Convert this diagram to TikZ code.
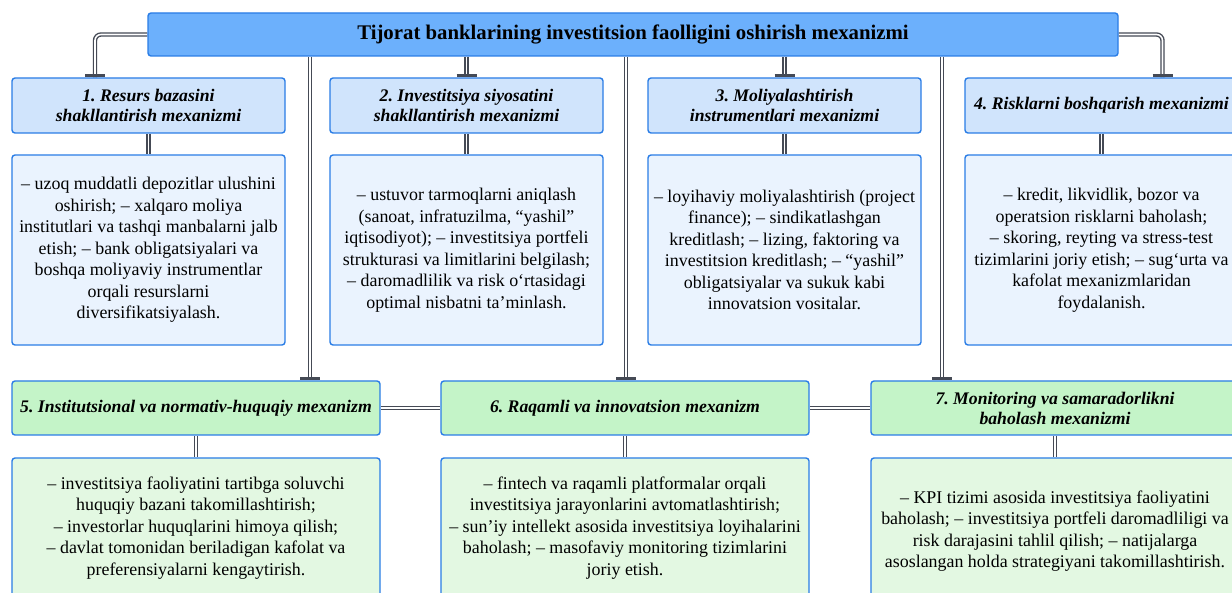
\documentclass[tikz,border=0pt]{standalone}
\usepackage{fontspec}
\setmainfont{Liberation Serif}
\usetikzlibrary{backgrounds,calc}
\definecolor{bordc}{HTML}{2A7DE6}
\definecolor{rootc}{HTML}{6CB0FC}
\definecolor{headb}{HTML}{D0E4FC}
\definecolor{bodyb}{HTML}{EAF3FE}
\definecolor{headg}{HTML}{C4F4C8}
\definecolor{bodyg}{HTML}{E3F8E2}
\definecolor{connc}{HTML}{454A55}
\tikzset{
  box/.style={draw=bordc, line width=1.4pt, rounded corners=3pt, inner sep=0pt, align=center},
  rootbox/.style={box, fill=rootc, minimum width=970pt, minimum height=43pt, font=\fontsize{20.8}{24}\selectfont\bfseries},
  headbox/.style={box, fill=headb, minimum width=273pt, minimum height=55pt, font=\fontsize{17.7}{20}\selectfont\bfseries\itshape},
  bodybox/.style={box, fill=bodyb, minimum width=273pt, minimum height=190pt, font=\fontsize{17.9}{21.5}\selectfont},
  greenhead/.style={box, fill=headg, minimum width=368pt, minimum height=54pt, font=\fontsize{17.7}{20}\selectfont\bfseries\itshape},
  greenbody/.style={box, fill=bodyg, minimum width=368pt, minimum height=140pt, font=\fontsize{17.9}{21.5}\selectfont},
  conn/.style={draw=connc, line width=1.4pt, double=white, double distance=1.6pt, rounded corners=6pt},
  teebar/.style={draw=connc, line width=3pt}
}
\newcommand\tbar[1]{\draw[teebar] ([xshift=-10pt,yshift=1.5pt]#1) -- ([xshift=10pt,yshift=1.5pt]#1);}
\frenchspacing
\begin{document}
\begin{tikzpicture}[x=1pt,y=-1pt]
\useasboundingbox (0,0) rectangle (1232,593);
\clip (0,0) rectangle (1232,593);
% root
\node[rootbox] (root) at (633,34.5) {\raisebox{-1pt}{Tijorat banklarining investitsion faolligini oshirish mexanizmi}};
% row 1 headers
\node[headbox] (h1) at (148.5,105.5) {1. Resurs bazasini\\shakllantirish mexanizmi};
\node[headbox] (h2) at (466.5,105.5) {2. Investitsiya siyosatini\\shakllantirish mexanizmi};
\node[headbox] (h3) at (784.5,105.5) {3. Moliyalashtirish\\instrumentlari mexanizmi};
\node[headbox] (h4) at (1101.5,105.5) {4. Risklarni boshqarish mexanizmi};
% row 1 bodies
\node[bodybox] (c1) at (148.5,250) {– uzoq muddatli depozitlar ulushini\\oshirish; – xalqaro moliya\\institutlari va tashqi manbalarni jalb\\etish; – bank obligatsiyalari va\\boshqa moliyaviy instrumentlar\\orqali resurslarni\\diversifikatsiyalash.};
\node[bodybox] (c2) at (466.5,250) {– ustuvor tarmoqlarni aniqlash\\(sanoat, infratuzilma, “yashil”\\iqtisodiyot); – investitsiya portfeli\\strukturasi va limitlarini belgilash;\\– daromadlilik va risk o‘rtasidagi\\optimal nisbatni ta’minlash.};
\node[bodybox] (c3) at (784.5,250) {– loyihaviy moliyalashtirish (project\\finance); – sindikatlashgan\\kreditlash; – lizing, faktoring va\\investitsion kreditlash; – “yashil”\\obligatsiyalar va sukuk kabi\\innovatsion vositalar.};
\node[bodybox] (c4) at (1101.5,250) {– kredit, likvidlik, bozor va\\operatsion risklarni baholash;\\– skoring, reyting va stress-test\\tizimlarini joriy etish; – sug‘urta va\\kafolat mexanizmlaridan\\foydalanish.};
% row 2 headers
\node[greenhead] (g5) at (196,408) {5. Institutsional va normativ-huquqiy mexanizm};
\node[greenhead] (g6) at (625,408) {6. Raqamli va innovatsion mexanizm};
\node[greenhead] (g7) at (1055,408) {7. Monitoring va samaradorlikni\\baholash mexanizmi};
% row 2 bodies
\node[greenbody] (d5) at (196,528) {– investitsiya faoliyatini tartibga soluvchi\\huquqiy bazani takomillashtirish;\\– investorlar huquqlarini himoya qilish;\\– davlat tomonidan beriladigan kafolat va\\preferensiyalarni kengaytirish.};
\node[greenbody] (d6) at (625,528) {– fintech va raqamli platformalar orqali\\investitsiya jarayonlarini avtomatlashtirish;\\– sun’iy intellekt asosida investitsiya loyihalarini\\baholash; – masofaviy monitoring tizimlarini\\joriy etish.};
\node[greenbody, minimum height=146pt] (d7) at (1055,531) {– KPI tizimi asosida investitsiya faoliyatini\\baholash; – investitsiya portfeli daromadliligi va\\risk darajasini tahlil qilish; – natijalarga\\asoslangan holda strategiyani takomillashtirish.};
\coordinate (x5) at (310,0);
\coordinate (x6) at (626,0);
\coordinate (x7) at (942,0);
\coordinate (t1) at ([xshift=-53.5pt]h1.north);
\coordinate (t4) at ([xshift=61pt]h4.north);
\coordinate (t5) at (g5.north -| x5);
\coordinate (t6) at (g6.north -| x6);
\coordinate (t7) at (g7.north -| x7);
\begin{pgfonlayer}{background}
\fill[white] (0,0) rectangle (1232,593);
\draw[conn] (root.west) -| (t1);
\draw[conn] (root.east) -| (t4);
\draw[conn] (root.south -| h2.north) -- (h2.north);
\draw[conn] (root.south -| h3.north) -- (h3.north);
\draw[conn] (root.south -| x5) -- (t5);
\draw[conn] (root.south -| x6) -- (t6);
\draw[conn] (root.south -| x7) -- (t7);
\draw[conn] (h1.south) -- (c1.north);
\draw[conn] (h2.south) -- (c2.north);
\draw[conn] (h3.south) -- (c3.north);
\draw[conn] (h4.south) -- (c4.north);
\draw[conn] (g5.south) -- (d5.north);
\draw[conn] (g6.south) -- (d6.north);
\draw[conn] (g7.south) -- (d7.north);
\draw[conn] (g5.east) -- (g6.west);
\draw[conn] (g6.east) -- (g7.west);
\end{pgfonlayer}
\tbar{t1}
\tbar{h2.north}
\tbar{h3.north}
\tbar{t4}
\tbar{t5}
\tbar{t6}
\tbar{t7}
\end{tikzpicture}
\end{document}
